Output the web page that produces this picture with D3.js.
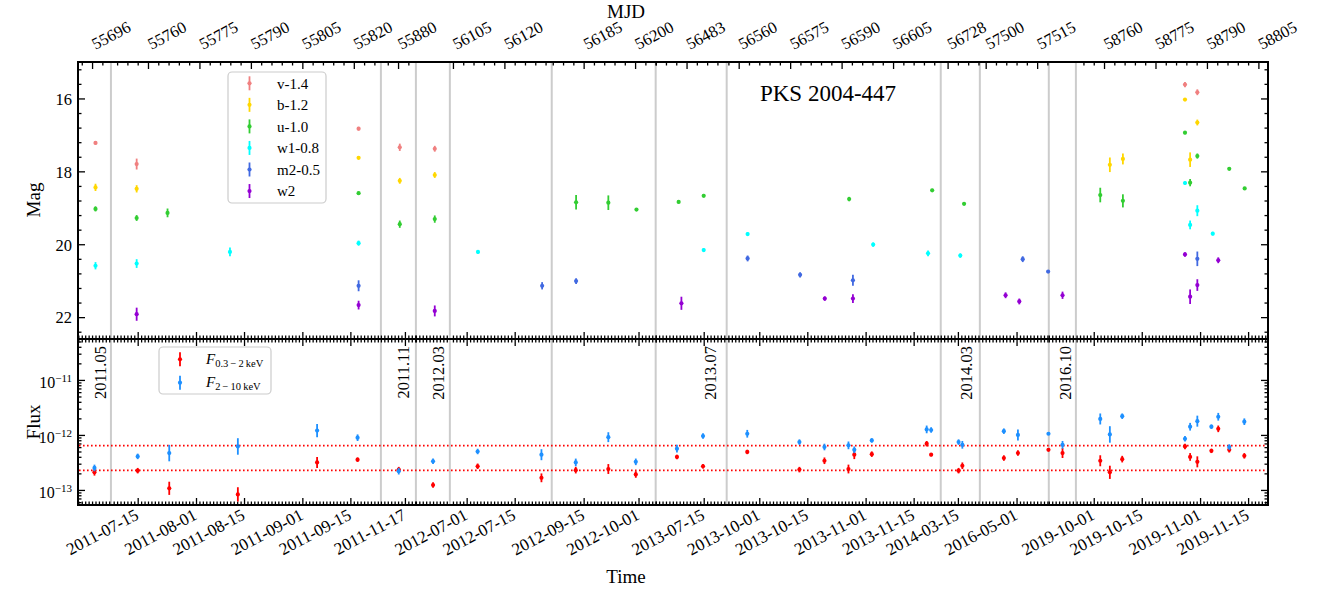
<!DOCTYPE html>
<html><head><meta charset="utf-8">
<script src="https://cdn.jsdelivr.net/npm/d3@7"></script>
<style>body{margin:0;background:#fff;}</style>
</head><body><script>
// ---------------- DATA ----------------
// broken x-axis: MJD ranges of the twelve panels
const segStart = [55691.9, 55749.2, 55875.0, 55990.0, 56104.1, 56175.7, 56474.0, 56556.5, 56726.0, 57498.3, 57670.0, 58751.8];
const segEnd   = [55701.5, 55827.9, 55885.2, 55999.9, 56133.8, 56206.0, 56494.7, 56618.9, 56737.4, 57518.4, 57677.9, 58807.8];

// top axis tick labels (MJD)
const mjdTicks = [55696, 55760, 55775, 55790, 55805, 55820, 55880, 56105, 56120, 56185, 56200, 56483,
                  56560, 56575, 56590, 56605, 56728, 57500, 57515, 58760, 58775, 58790, 58805];
// bottom axis tick labels (dates)
const dateTicks = ["2011-07-15","2011-08-01","2011-08-15","2011-09-01","2011-09-15","2011-11-17",
                   "2012-07-01","2012-07-15","2012-09-15","2012-10-01","2013-07-15","2013-10-01",
                   "2013-10-15","2013-11-01","2013-11-15","2014-03-15","2016-05-01","2019-10-01",
                   "2019-10-15","2019-11-01","2019-11-15"];
// epoch labels in the flux panel
const epochLabels = ["2011.05","2011.11","2012.03","2013.07","2014.03","2016.10"];
const epochMJD    = [55698.3, 55881.5, 55996.5, 56490.0, 56733.5, 57674.7];

// optical/UV magnitudes (offsets already applied)
const vMJD = [55697.0, 55756.7, 55821.4, 55880.5, 55995.5, 58783.6, 58787.2];
const vMag = [17.22, 17.80, 16.83, 17.34, 17.38, 15.62, 15.83];
const vErr = [0.05, 0.15, 0.05, 0.10, 0.08, 0.07, 0.08];

const bMJD = [55697.0, 55756.7, 55821.4, 55880.5, 55995.5, 58761.7, 58765.5, 58783.6, 58785.1, 58787.2];
const bMag = [18.44, 18.48, 17.63, 18.26, 18.10, 17.82, 17.66, 16.03, 17.68, 16.66];
const bErr = [0.10, 0.10, 0.04, 0.08, 0.08, 0.20, 0.15, 0.04, 0.20, 0.08];

const uMJD = [55697.0, 55756.7, 55765.7, 55821.4, 55880.5, 55995.5, 56182.8, 56192.2, 56200.4, 56480.7, 56488.0,
              56592.2, 56616.4, 56732.8, 58758.9, 58765.5, 58783.6, 58785.1, 58787.2, 58796.5, 58801.0];
const uMag = [19.03, 19.28, 19.14, 18.60, 19.45, 19.31, 18.85, 18.86, 19.05, 18.84, 18.67,
              18.76, 18.52, 18.89, 18.65, 18.81, 16.94, 18.31, 17.58, 17.93, 18.47];
const uErr = [0.07, 0.08, 0.12, 0.04, 0.10, 0.10, 0.20, 0.20, 0.04, 0.04, 0.05,
              0.06, 0.04, 0.04, 0.20, 0.18, 0.04, 0.10, 0.07, 0.04, 0.04];

const w1MJD = [55697.0, 55756.7, 55783.9, 55821.4, 56112.3, 56488.0, 56562.6, 56599.2, 56615.2, 56731.7,
               58783.6, 58785.1, 58787.2, 58791.7];
const w1Mag = [20.59, 20.53, 20.21, 19.97, 20.21, 20.16, 19.72, 20.01, 20.25, 20.31, 18.32, 19.47, 19.08, 19.71];
const w1Err = [0.10, 0.12, 0.12, 0.07, 0.05, 0.05, 0.05, 0.06, 0.08, 0.06, 0.05, 0.12, 0.15, 0.05];

const m2MJD = [55821.4, 56131.0, 56182.8, 56562.6, 56577.9, 56593.3, 57510.8, 57518.2, 58787.2];
const m2Mag = [21.14, 21.14, 21.01, 20.39, 20.84, 20.99, 20.41, 20.75, 20.40];
const m2Err = [0.15, 0.10, 0.08, 0.08, 0.07, 0.15, 0.08, 0.03, 0.20];

const w2MJD = [55756.7, 55821.4, 55995.5, 56481.5, 56585.1, 56593.3, 57505.8, 57509.8, 57674.0,
               58783.6, 58785.1, 58787.2, 58793.3];
const w2Mag = [21.92, 21.67, 21.83, 21.62, 21.49, 21.49, 21.40, 21.57, 21.40, 20.28, 21.44, 21.12, 20.44];
const w2Err = [0.18, 0.12, 0.15, 0.18, 0.06, 0.12, 0.08, 0.08, 0.10, 0.06, 0.20, 0.16, 0.08];

// X-ray fluxes (erg cm^-2 s^-1), errors in dex
const xMJD = [55696.7, 55757.0, 55766.2, 55786.2, 55809.3, 55821.1, 55880.2, 55995.0, 56112.2, 56130.8,
              56182.7, 56192.2, 56200.2, 56480.2, 56487.8, 56562.5, 56577.7, 56585.0, 56592.0, 56593.7,
              56598.8, 56614.8, 56616.1, 56731.2, 56732.3, 57505.3, 57509.4, 57518.3, 57674.0, 58758.9,
              58761.7, 58765.3, 58783.6, 58785.1, 58787.2, 58791.3, 58793.3, 58796.5, 58800.9];
const softFlux = [2.09e-13, 2.24e-13, 1.07e-13, 8.3e-14, 3.16e-13, 3.55e-13, 2.34e-13, 1.23e-13, 2.69e-13, 1.66e-13,
                  2.29e-13, 2.40e-13, 1.91e-13, 3.98e-13, 2.69e-13, 4.90e-13, 2.34e-13, 3.39e-13, 2.40e-13, 4.37e-13,
                  4.47e-13, 6.92e-13, 4.37e-13, 2.24e-13, 2.75e-13, 3.80e-13, 4.68e-13, 5.37e-13, 4.68e-13, 3.39e-13,
                  2.09e-13, 3.63e-13, 6.17e-13, 3.98e-13, 3.24e-13, 5.13e-13, 1.29e-12, 5.37e-13, 4.17e-13];
const softErr = [0.06, 0.05, 0.12, 0.13, 0.10, 0.04, 0.05, 0.05, 0.05, 0.08,
                 0.06, 0.09, 0.06, 0.04, 0.04, 0.04, 0.05, 0.06, 0.08, 0.08,
                 0.05, 0.05, 0.03, 0.05, 0.06, 0.05, 0.05, 0.02, 0.09, 0.10,
                 0.12, 0.06, 0.05, 0.07, 0.10, 0.04, 0.06, 0.05, 0.05];
const hardFlux = [2.51e-13, 4.07e-13, 4.68e-13, 6.17e-13, 1.20e-12, 8.9e-13, 2.19e-13, 3.31e-13, 5.0e-13, 4.37e-13,
                  3.16e-13, 9.1e-13, 3.24e-13, 5.62e-13, 9.55e-13, 1.05e-12, 7.41e-13, 6.03e-13, 6.46e-13, 5.37e-13,
                  7.94e-13, 1.26e-12, 1.23e-12, 7.41e-13, 6.61e-13, 1.17e-12, 1.00e-12, 1.05e-12, 6.61e-13, 1.95e-12,
                  1.02e-12, 2.19e-12, 8.51e-13, 1.41e-12, 1.78e-12, 1.41e-12, 2.14e-12, 6.03e-13, 1.74e-12];
const hardErr = [0.06, 0.05, 0.15, 0.15, 0.12, 0.06, 0.06, 0.05, 0.05, 0.10,
                 0.07, 0.09, 0.06, 0.07, 0.05, 0.07, 0.05, 0.06, 0.07, 0.06,
                 0.04, 0.07, 0.05, 0.05, 0.07, 0.05, 0.10, 0.02, 0.07, 0.10,
                 0.15, 0.05, 0.05, 0.07, 0.10, 0.04, 0.07, 0.05, 0.06];
// reference flux levels (dotted lines)
const refFlux = [6.4e-13, 2.27e-13];

const filterNames  = ["v-1.4", "b-1.2", "u-1.0", "w1-0.8", "m2-0.5", "w2"];
const filterColors = ["#f08080", "#ffd700", "#32cd32", "#00ffff", "#4169e1", "#9400d3"];
const xrayNames  = ["0.3\u2009\u2212\u20092\u2009keV", "2\u2009\u2212\u200910\u2009keV"];
const xrayColors = ["#ff0000", "#1e90ff"];

// ---------------- LAYOUT ----------------
const W = 1323, H = 593;
const L = 78, R = 1268, T1 = 62, B1 = 339, B2 = 505;
const FONT = "'Liberation Serif','Times New Roman',Times,serif";
const ROT = 28;

const svg = d3.select("body").append("svg").attr("width", W).attr("height", H)
  .style("font-family", FONT);

// piecewise (broken) x scale
const totalDays = d3.sum(segStart.map((s, i) => segEnd[i] - s));
const kpx = (R - L) / totalDays;
const dom = [], rng = [];
let acc = L;
segStart.forEach((s, i) => { dom.push(s, segEnd[i]); rng.push(acc); acc += (segEnd[i] - s) * kpx; rng.push(acc); });
const x = d3.scaleLinear().domain(dom).range(rng);

const yMag = d3.scaleLinear().domain([15.0, 22.6]).range([T1, B1]);
const yFlux = d3.scaleLog().domain([Math.pow(10, -10.256), Math.pow(10, -13.274)]).range([B1, B2]);

const toMJD = s => Date.parse(s + "T00:00:00Z") / 86400000 + 40587;
const dateMJD = dateTicks.map(toMJD);

// separators
for (let i = 0; i < segStart.length - 1; i++) {
  const px = x(segEnd[i]);
  svg.append("line").attr("x1", px).attr("x2", px).attr("y1", T1).attr("y2", B2)
    .attr("stroke", "#cccccc").attr("stroke-width", 2);
}

// minor tick lists
const mjdMinor = [];
segStart.forEach((s, i) => {
  const e = segEnd[i];
  const maj = mjdTicks.filter(t => t >= s && t <= e);
  if (!maj.length) return;
  let t = maj[0] - 3 * Math.floor((maj[0] - s) / 3);
  for (; t <= e; t += 3) if (!maj.includes(t)) mjdMinor.push(t);
});
const dayMinor = [];
segStart.forEach((s, i) => {
  for (let t = Math.ceil(s); t <= segEnd[i]; t++) if (!dateMJD.includes(t)) dayMinor.push(t);
});

function axis(gen, tx, ty) {
  const g = svg.append("g").attr("transform", `translate(${tx},${ty})`).call(gen);
  g.select(".domain").remove();
  g.selectAll("line").attr("stroke", "#000").attr("stroke-width", 1.3);
  g.selectAll("text").attr("font-family", FONT).attr("fill", "#000");
  return g;
}
const none = () => "";

// top MJD axis
const gTop = axis(d3.axisTop(x).tickValues(mjdTicks).tickSize(-7).tickFormat(d => d), 0, T1);
gTop.selectAll("text").attr("x", 0).attr("y", 0).attr("dy", null)
  .attr("text-anchor", "start").attr("font-size", 16.5)
  .attr("transform", `translate(3,-12) rotate(${-ROT})`);
axis(d3.axisTop(x).tickValues(mjdMinor).tickSize(-3.5).tickFormat(none), 0, T1);

// shared date axes
axis(d3.axisBottom(x).tickValues(dateMJD).tickSize(-7).tickFormat(none), 0, B1);
axis(d3.axisBottom(x).tickValues(dayMinor).tickSize(-3.5).tickFormat(none), 0, B1);
axis(d3.axisTop(x).tickValues(dateMJD).tickSize(-7).tickFormat(none), 0, B1);
axis(d3.axisTop(x).tickValues(dayMinor).tickSize(-3.5).tickFormat(none), 0, B1);
const gBot = axis(d3.axisBottom(x).tickValues(dateMJD).tickSize(-7).tickFormat((d, i) => dateTicks[i]), 0, B2);
gBot.selectAll("text").attr("x", 0).attr("y", 0).attr("dy", "0.7em")
  .attr("text-anchor", "end").attr("font-size", 17)
  .attr("transform", `translate(-4,3) rotate(${-ROT})`);
axis(d3.axisBottom(x).tickValues(dayMinor).tickSize(-3.5).tickFormat(none), 0, B2);

// magnitude axes
const magMajor = [16, 18, 20, 22];
const magMinor = d3.range(15.2, 22.61, 0.4).filter(v => !magMajor.some(m => Math.abs(m - v) < 1e-6));
const gMag = axis(d3.axisLeft(yMag).tickValues(magMajor).tickSize(-7).tickPadding(6), L, 0);
gMag.selectAll("text").attr("font-size", 16.5).attr("dy", "0.35em");
axis(d3.axisLeft(yMag).tickValues(magMinor).tickSize(-3.5).tickFormat(none), L, 0);
axis(d3.axisRight(yMag).tickValues(magMajor).tickSize(-7).tickFormat(none), R, 0);
axis(d3.axisRight(yMag).tickValues(magMinor).tickSize(-3.5).tickFormat(none), R, 0);

// flux axes
const fluxMajor = [1e-11, 1e-12, 1e-13];
const fluxMinor = [];
[-14, -13, -12, -11].forEach(e => d3.range(2, 10).forEach(m => {
  const v = m * Math.pow(10, e);
  const [lo, hi] = [yFlux.domain()[1], yFlux.domain()[0]];
  if (v > lo && v < hi) fluxMinor.push(v);
}));
const gFlux = axis(d3.axisLeft(yFlux).tickValues(fluxMajor).tickSize(-7).tickPadding(6).tickFormat(none), L, 0);
gFlux.selectAll("text").each(function (d) {
  const t = d3.select(this).attr("font-size", 16).attr("dy", "0.45em");
  t.append("tspan").text("10");
  t.append("tspan").attr("dy", "-0.55em").attr("font-size", 11).text("\u2212" + Math.round(-Math.log10(d)));
});
axis(d3.axisLeft(yFlux).tickValues(fluxMinor).tickSize(-3.5).tickFormat(none), L, 0);
axis(d3.axisRight(yFlux).tickValues(fluxMajor).tickSize(-7).tickFormat(none), R, 0);
axis(d3.axisRight(yFlux).tickValues(fluxMinor).tickSize(-3.5).tickFormat(none), R, 0);

// frames
svg.append("rect").attr("x", L).attr("y", T1).attr("width", R - L).attr("height", B1 - T1)
  .attr("fill", "none").attr("stroke", "#000").attr("stroke-width", 2);
svg.append("rect").attr("x", L).attr("y", B1).attr("width", R - L).attr("height", B2 - B1)
  .attr("fill", "none").attr("stroke", "#000").attr("stroke-width", 2);

// reference dotted lines
refFlux.forEach(f => svg.append("line").attr("x1", L + 1).attr("x2", R - 1)
  .attr("y1", yFlux(f)).attr("y2", yFlux(f)).attr("stroke", "#ff0000")
  .attr("stroke-width", 1.6).attr("stroke-dasharray", "1.6,2.4"));

// epoch labels
epochLabels.forEach((lab, i) => {
  svg.append("text").attr("transform", `translate(${x(epochMJD[i])},346) rotate(-90)`)
    .attr("text-anchor", "end").attr("dy", "0.35em").attr("font-size", 16.5).text(lab);
});

// error bar drawing
function errbars(mjd, val, lo, hi, yS, color) {
  const g = svg.append("g");
  mjd.forEach((m, i) => {
    const px = x(m);
    g.append("line").attr("x1", px).attr("x2", px).attr("y1", yS(lo(i))).attr("y2", yS(hi(i)))
      .attr("stroke", color).attr("stroke-width", 1.8);
    g.append("circle").attr("cx", px).attr("cy", yS(val[i])).attr("r", 2.1).attr("fill", color);
  });
}
const optical = [[vMJD, vMag, vErr], [bMJD, bMag, bErr], [uMJD, uMag, uErr],
                 [w1MJD, w1Mag, w1Err], [m2MJD, m2Mag, m2Err], [w2MJD, w2Mag, w2Err]];
optical.forEach(([m, v, e], k) =>
  errbars(m, v, i => v[i] - e[i], i => v[i] + e[i], yMag, filterColors[k]));
errbars(xMJD, softFlux, i => softFlux[i] / Math.pow(10, softErr[i]), i => softFlux[i] * Math.pow(10, softErr[i]), yFlux, xrayColors[0]);
errbars(xMJD, hardFlux, i => hardFlux[i] / Math.pow(10, hardErr[i]), i => hardFlux[i] * Math.pow(10, hardErr[i]), yFlux, xrayColors[1]);

// legends
function legendMark(g, cx, cy, color) {
  g.append("line").attr("x1", cx).attr("x2", cx).attr("y1", cy - 7).attr("y2", cy + 7)
    .attr("stroke", color).attr("stroke-width", 1.8);
  g.append("circle").attr("cx", cx).attr("cy", cy).attr("r", 2.1).attr("fill", color);
}
const lg1 = svg.append("g");
lg1.append("rect").attr("x", 228).attr("y", 72).attr("width", 98).attr("height", 131).attr("rx", 4)
  .attr("fill", "#fff").attr("fill-opacity", 0.85).attr("stroke", "#cccccc").attr("stroke-width", 1.2);
filterNames.forEach((n, i) => {
  const cy = 83.3 + i * 21.55;
  legendMark(lg1, 249.5, cy, filterColors[i]);
  lg1.append("text").attr("x", 277).attr("y", cy).attr("dy", "0.35em").attr("font-size", 15).text(n);
});
const lg2 = svg.append("g");
lg2.append("rect").attr("x", 159).attr("y", 347).attr("width", 112).attr("height", 47).attr("rx", 4)
  .attr("fill", "#fff").attr("fill-opacity", 0.85).attr("stroke", "#cccccc").attr("stroke-width", 1.2);
xrayNames.forEach((n, i) => {
  const cy = 359.3 + i * 23.4;
  legendMark(lg2, 180, cy, xrayColors[i]);
  const t = lg2.append("text").attr("x", 206).attr("y", cy).attr("dy", "0.3em").attr("font-size", 15);
  t.append("tspan").attr("font-style", "italic").text("F");
  t.append("tspan").attr("dy", "0.3em").attr("font-size", 10.5).text(n);
});

// titles and axis labels
svg.append("text").attr("x", 828).attr("y", 101).attr("text-anchor", "middle").attr("font-size", 23).text("PKS 2004-447");
svg.append("text").attr("x", 626).attr("y", 18).attr("text-anchor", "middle").attr("font-size", 19).text("MJD");
svg.append("text").attr("x", 626).attr("y", 583).attr("text-anchor", "middle").attr("font-size", 19).text("Time");
svg.append("text").attr("transform", "translate(40,200) rotate(-90)").attr("text-anchor", "middle").attr("font-size", 19).text("Mag");
svg.append("text").attr("transform", "translate(40,422) rotate(-90)").attr("text-anchor", "middle").attr("font-size", 19).text("Flux");
</script></body></html>
